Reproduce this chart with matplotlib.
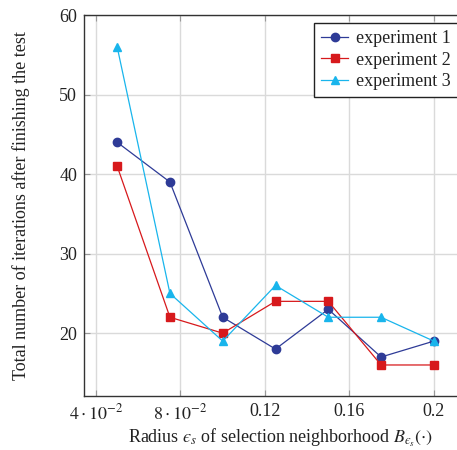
import matplotlib
matplotlib.use('Agg')
import matplotlib.pyplot as plt

# data
radius = [0.05, 0.075, 0.1, 0.125, 0.15, 0.175, 0.2]
exp1 = [44, 39, 22, 18, 23, 17, 19]
exp2 = [41, 22, 20, 24, 24, 16, 16]
exp3 = [56, 25, 19, 26, 22, 22, 19]
labels = ['experiment 1', 'experiment 2', 'experiment 3']

xticks = [0.04, 0.08, 0.12, 0.16, 0.2]
xticklabels = [r'$4\cdot10^{-2}$', r'$8\cdot10^{-2}$', '0.12', '0.16', '0.2']
yticks = [20, 30, 40, 50, 60]

plt.rcParams['font.family'] = ['Liberation Serif', 'DejaVu Serif']
plt.rcParams['mathtext.fontset'] = 'stix'
plt.rcParams['font.size'] = 13

W, H = 457, 450
fig = plt.figure(figsize=(W / 100, H / 100), dpi=100)
# the original is cropped on the right, so the axes run past the figure edge
ax = fig.add_axes([84 / W, 1 - 396 / H, (467 - 84) / W, (396 - 15) / H])

BLUE = '#2e3b97'
RED = '#d7191c'
CYAN = '#19b5ec'

ax.plot(radius, exp1, color=BLUE, lw=0.9, marker='o', ms=6, label=labels[0])
ax.plot(radius, exp2, color=RED, lw=0.9, marker='s', ms=6, label=labels[1])
ax.plot(radius, exp3, color=CYAN, lw=0.9, marker='^', ms=5.5, label=labels[2])

ax.set_xlim(0.0343, 0.2157)
ax.set_ylim(12.1, 60)
ax.set_xticks(xticks)
ax.set_xticklabels(xticklabels)
ax.set_yticks(yticks)
ax.grid(True, color='#dadada', lw=1)
ax.set_axisbelow(True)
ax.tick_params(direction='in', length=4, color='#999999', top=True, right=True,
               labelcolor='#222222', pad=5)
for s in ax.spines.values():
    s.set_color('#333333')
    s.set_linewidth(1)

ax.set_xlabel('Radius $ϵ_s$ of selection neighborhood $B_{ϵ_s}(\\cdot)$',
              color='#222222')
ax.set_ylabel('Total number of iterations after finishing the test', color='#222222')
ax.xaxis.set_label_coords((280 - 84) / (467 - 84), -(427 - 396) / (396 - 15))
ax.yaxis.set_label_coords(-(84 - 30) / (467 - 84), 0.5)

leg = ax.legend(loc='upper left', bbox_to_anchor=(314 / W, 1 - 23 / H),
                bbox_transform=fig.transFigure, fancybox=False, framealpha=1,
                edgecolor='#222222', borderpad=0.4, borderaxespad=0,
                handlelength=1.5, labelspacing=0.25, handletextpad=0.4)
leg.get_frame().set_linewidth(1)
for t in leg.get_texts():
    t.set_color('#222222')

fig.savefig('out.png', dpi=100)
